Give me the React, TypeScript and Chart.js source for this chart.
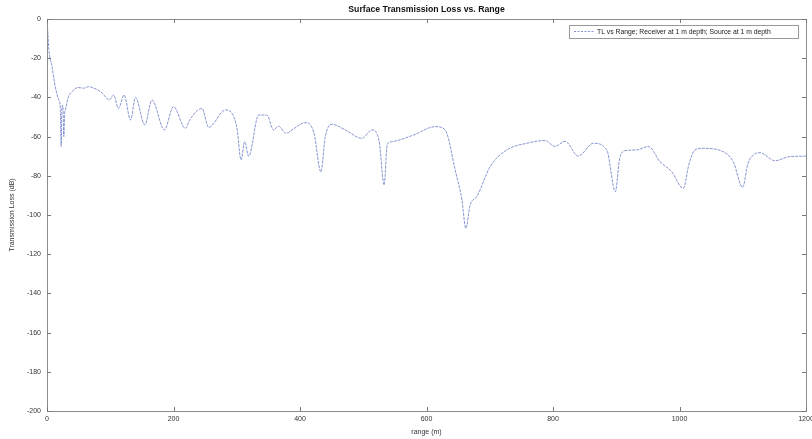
import React, { useEffect, useRef } from "react";
import { Chart, registerables } from "chart.js";
Chart.register(...registerables);

const rangeM = [
  0, 1, 3, 8, 13, 18.7, 21, 22.4, 23.5, 25, 26.6, 28, 29, 34, 40, 49, 58, 66, 74, 84.5,
  90, 98, 105.5, 113, 122, 132, 140, 154.5, 166, 185.6, 200, 218.8, 225.6, 245, 255.6, 282,
  300, 306.8, 312.5, 318.8, 334.7, 347.8, 358, 366, 377.8, 390, 408, 422, 433, 440, 450.5,
  471.6, 498, 513.7, 525, 533, 538, 545, 579.5, 613.7, 629.5, 645.3, 656, 662.2, 669, 679.6,
  700.6, 727, 758.6, 787.5, 803, 819, 840, 863.8, 885, 898.6, 905, 913.9, 932.4, 950.8,
  969.2, 987.7, 1006, 1015, 1024.5, 1037.6, 1069, 1085, 1099.8, 1108, 1116.6, 1127, 1150.9,
  1174.6, 1200,
];
const lossDb = [
  0, -5, -15.8, -24.3, -34.5, -41.3, -45, -65, -46, -44, -60, -48, -46.4, -39.6, -37, -34.9,
  -35.3, -34.5, -35.3, -37, -38.8, -41.3, -38.8, -45.6, -38.8, -51.5, -40, -54, -41.3, -56.6,
  -44.7, -55.8, -51.5, -45.6, -55.3, -46.4, -55, -72, -62.6, -70, -49, -49, -56.6, -54.7,
  -58.3, -56, -52.9, -58, -78, -60, -53.7, -56.6, -60.9, -56.6, -62, -84.7, -64, -62.6,
  -59.2, -54.9, -56.6, -77, -92.3, -106.8, -94.9, -90.6, -75.3, -66.8, -63.4, -62, -65,
  -62.4, -69.9, -63.4, -66.8, -88.1, -72, -67.2, -66.8, -65, -72.8, -77.9, -86.4, -74,
  -66.8, -66, -67.7, -72.8, -85.9, -74, -69.4, -68.2, -72.3, -70.2, -70,
];
const xTicks = [0, 200, 400, 600, 800, 1000, 1200];
const yTicks = [0, -20, -40, -60, -80, -100, -120, -140, -160, -180, -200];
const titleText = "Surface Transmission Loss vs. Range";
const legendText = "TL vs Range; Receiver at 1 m depth; Source at 1 m depth";
const xTitle = "range (m)";
const yTitle = "Transmission Loss (dB)";

const FONT = "'Liberation Sans', Arial, sans-serif";
const LINE_COLOR = "rgba(95,115,195,0.75)";

export default function App() {
  const ref = useRef<HTMLCanvasElement>(null);
  useEffect(() => {
    document.body.style.margin = "0";
    const framePlugin = {
      id: "frame",
      afterDraw(chart: any) {
        const { ctx, chartArea: a, scales } = chart;
        ctx.save();
        ctx.strokeStyle = "#8c8c8c";
        ctx.lineWidth = 1;
        ctx.strokeRect(Math.round(a.left) + 0.5, Math.round(a.top) + 0.5, Math.round(a.right - a.left), Math.round(a.bottom - a.top));
        ctx.strokeStyle = "#777";
        const tl = 4;
        xTicks.forEach((v) => {
          const px = Math.round(scales.x.getPixelForValue(v)) + 0.5;
          ctx.beginPath();
          ctx.moveTo(px, a.bottom);
          ctx.lineTo(px, a.bottom - tl);
          ctx.moveTo(px, a.top);
          ctx.lineTo(px, a.top + tl);
          ctx.stroke();
        });
        yTicks.forEach((v) => {
          const py = Math.round(scales.y.getPixelForValue(v)) + 0.5;
          ctx.beginPath();
          ctx.moveTo(a.left, py);
          ctx.lineTo(a.left + tl, py);
          ctx.moveTo(a.right, py);
          ctx.lineTo(a.right - tl, py);
          ctx.stroke();
        });
        // title
        ctx.fillStyle = "#111";
        ctx.font = `bold 8.7px ${FONT}`;
        ctx.textAlign = "center";
        ctx.textBaseline = "middle";
        ctx.fillText(titleText, (a.left + a.right) / 2, 10);
        // legend box
        const bx = 569, by = 25, bw = 229, bh = 13;
        ctx.fillStyle = "#fff";
        ctx.fillRect(bx, by, bw, bh);
        ctx.strokeStyle = "#999";
        ctx.strokeRect(bx + 0.5, by + 0.5, bw, bh);
        ctx.strokeStyle = LINE_COLOR;
        ctx.setLineDash([2, 1.5]);
        ctx.beginPath();
        ctx.moveTo(574, 31.5);
        ctx.lineTo(594, 31.5);
        ctx.stroke();
        ctx.setLineDash([]);
        ctx.fillStyle = "#222";
        ctx.font = `6.8px ${FONT}`;
        ctx.textAlign = "left";
        ctx.fillText(legendText, 597, 32);
        ctx.restore();
      },
    };
    const chart = new Chart(ref.current as HTMLCanvasElement, {
      type: "line",
      data: {
        datasets: [
          {
            label: legendText,
            data: rangeM.map((x, i) => ({ x, y: lossDb[i] })),
            borderColor: LINE_COLOR,
            borderWidth: 1,
            borderDash: [3, 1],
            pointRadius: 0,
            cubicInterpolationMode: "monotone",
            fill: false,
          },
        ],
      },
      options: {
        responsive: false,
        animation: false,
        layout: { padding: { left: 0, right: 6, top: 19, bottom: 0 } },
        plugins: { legend: { display: false }, title: { display: false }, tooltip: { enabled: false } },
        scales: {
          x: {
            type: "linear",
            min: 0,
            max: 1200,
            afterBuildTicks: (s: any) => {
              s.ticks = xTicks.map((v) => ({ value: v }));
            },
            afterFit: (s: any) => {
              s.height = 28;
              s.paddingLeft = 0;
              s.paddingRight = 0;
            },
            ticks: { font: { size: 7, family: FONT }, color: "#333", padding: 4, maxRotation: 0, autoSkip: false, callback: (v: any) => String(v) },
            grid: { display: false, drawTicks: false },
            border: { display: false },
            title: { display: true, text: xTitle, font: { size: 7, family: FONT }, color: "#333", padding: { top: 0, bottom: 3 } },
          },
          y: {
            type: "linear",
            min: -200,
            max: 0,
            afterBuildTicks: (s: any) => {
              s.ticks = yTicks.map((v) => ({ value: v }));
            },
            afterFit: (s: any) => {
              s.width = 47;
              s.paddingTop = 0;
              s.paddingBottom = 0;
            },
            ticks: { font: { size: 7, family: FONT }, color: "#333", padding: 6, autoSkip: false, callback: (v: any) => String(v) },
            grid: { display: false, drawTicks: false },
            border: { display: false },
            title: { display: true, text: yTitle, font: { size: 7, family: FONT }, color: "#333", padding: { top: 8, bottom: 0 } },
          },
        },
      },
      plugins: [framePlugin],
    } as any);
    return () => chart.destroy();
  }, []);
  return (
    <div style={{ position: "absolute", left: 0, top: 0, width: 812, height: 439, background: "#fff" }}>
      <canvas ref={ref} width={812} height={439} style={{ width: 812, height: 439, display: "block" }} />
    </div>
  );
}
